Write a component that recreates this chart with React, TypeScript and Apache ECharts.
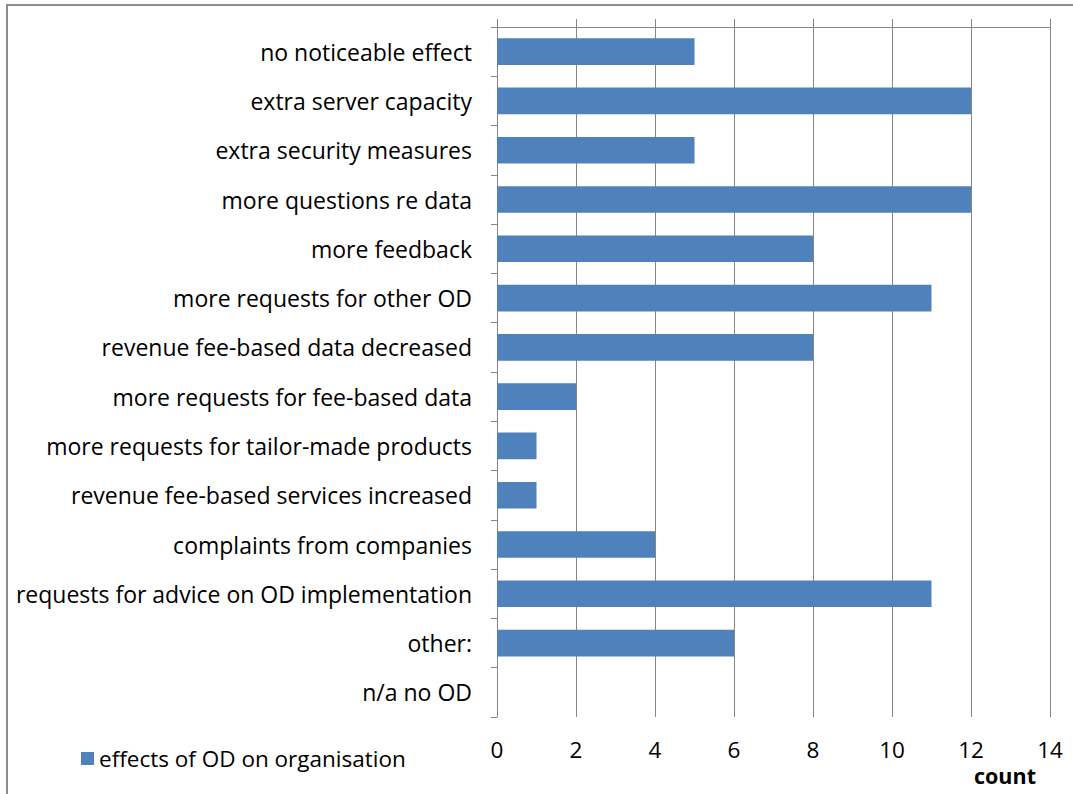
import React, { useEffect, useRef } from "react";
import * as echarts from "echarts";

// Survey answers: effects of open data (OD) on the organisation
const categories: string[] = [
  "no noticeable effect",
  "extra server capacity",
  "extra security measures",
  "more questions re data",
  "more feedback",
  "more requests for other OD",
  "revenue fee-based data decreased",
  "more requests for fee-based data",
  "more requests for tailor-made products",
  "revenue fee-based services increased",
  "complaints from companies",
  "requests for advice on OD implementation",
  "other:",
  "n/a no OD",
];

const counts: number[] = [5, 12, 5, 12, 8, 11, 8, 2, 1, 1, 4, 11, 6, 0];

const seriesName = "effects of OD on organisation";
const axisTitle = "count";

const FONT = "'Open Sans', 'Noto Sans', sans-serif";
const GRID_COLOR = "#868686";
const BAR_COLOR = "#4F81BD";
const FONT_SIZE = 23;

export default function App() {
  const ref = useRef<HTMLDivElement>(null);

  useEffect(() => {
    if (!ref.current) return;
    const chart = echarts.init(ref.current, undefined, { renderer: "svg" });
    chart.setOption({
      animation: false,
      backgroundColor: "#ffffff",
      textStyle: { fontFamily: FONT },
      grid: { left: 497, top: 27, width: 553, height: 690, containLabel: false },
      legend: {
        left: 76,
        top: 742,
        icon: "rect",
        itemWidth: 13,
        itemHeight: 13,
        itemGap: 8,
        textStyle: { fontFamily: FONT, fontSize: 22.5, color: "#000" },
        data: [seriesName],
      },
      xAxis: [
        {
          // top line with outward ticks
          type: "value",
          position: "top",
          min: 0,
          max: 14,
          interval: 2,
          axisLine: { show: true, lineStyle: { color: GRID_COLOR, width: 1 } },
          axisTick: { show: true, length: 8, lineStyle: { color: GRID_COLOR } },
          axisLabel: { show: false },
          splitLine: { show: true, lineStyle: { color: GRID_COLOR, width: 1 } },
        },
        {
          // tick labels below the plot
          type: "value",
          position: "bottom",
          min: 0,
          max: 14,
          interval: 2,
          axisLine: { show: false },
          axisTick: { show: false },
          splitLine: { show: false },
          axisLabel: {
            show: true,
            margin: 21,
            fontSize: 22.5,
            lineHeight: 22,
            color: "#000",
            fontFamily: FONT,
          },
        },
      ],
      yAxis: {
        type: "category",
        inverse: true,
        data: categories,
        axisLine: { show: true, lineStyle: { color: GRID_COLOR, width: 1 } },
        axisTick: { show: true, length: 6, inside: false, lineStyle: { color: GRID_COLOR } },
        axisLabel: { margin: 25, fontSize: FONT_SIZE, color: "#000", fontFamily: FONT },
      },
      series: [
        {
          name: seriesName,
          type: "bar",
          xAxisIndex: 0,
          data: counts,
          barCategoryGap: "46%",
          itemStyle: { color: BAR_COLOR },
        },
      ],
      graphic: [
        {
          type: "rect",
          shape: { x: 7, y: 5, width: 1200, height: 1000 },
          style: { fill: "none", stroke: "#8c8c8c", lineWidth: 2 },
          silent: true,
        },
        {
          type: "text",
          left: 974,
          top: 764,
          style: { text: axisTitle, font: `bold 21.5px ${FONT}`, fill: "#000", lineHeight: 20 },
        },
      ],
    });
    return () => chart.dispose();
  }, []);

  return (
    <div
      ref={ref}
      style={{ position: "fixed", left: 0, top: 0, width: 1073, height: 794 }}
    />
  );
}
